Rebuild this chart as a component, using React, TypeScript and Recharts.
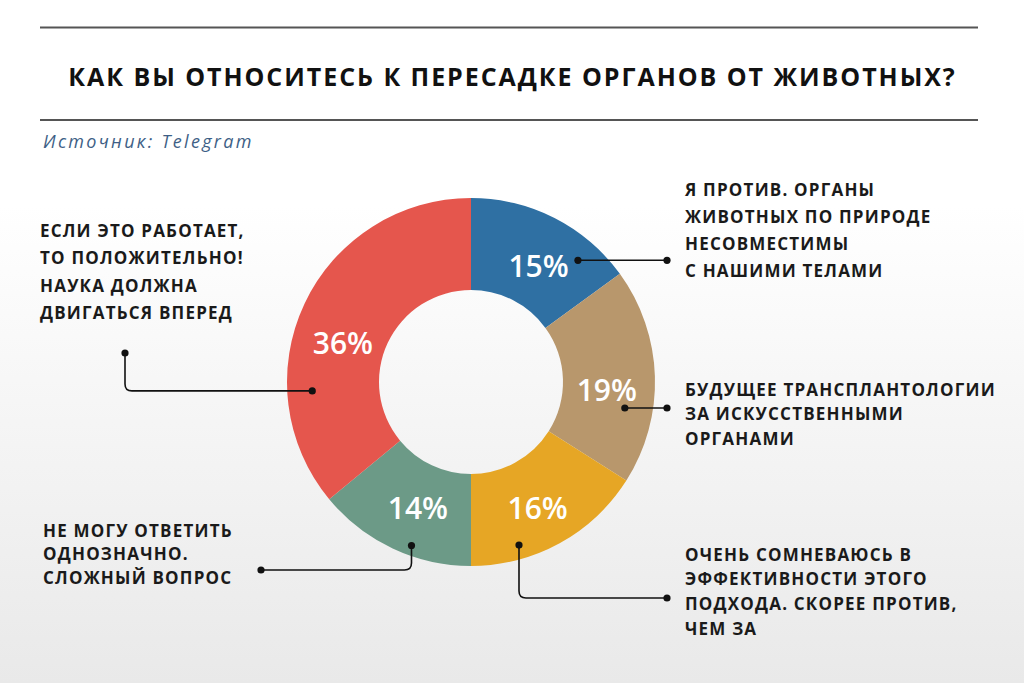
import { PieChart, Pie, Cell } from 'recharts';

const answers = [
  ['Я ПРОТИВ. ОРГАНЫ', 'ЖИВОТНЫХ ПО ПРИРОДЕ', 'НЕСОВМЕСТИМЫ', 'С НАШИМИ ТЕЛАМИ'],
  ['БУДУЩЕЕ ТРАНСПЛАНТОЛОГИИ', 'ЗА ИСКУССТВЕННЫМИ', 'ОРГАНАМИ'],
  ['ОЧЕНЬ СОМНЕВАЮСЬ В', 'ЭФФЕКТИВНОСТИ ЭТОГО', 'ПОДХОДА. СКОРЕЕ ПРОТИВ,', 'ЧЕМ ЗА'],
  ['НЕ МОГУ ОТВЕТИТЬ', 'ОДНОЗНАЧНО.', 'СЛОЖНЫЙ ВОПРОС'],
  ['ЕСЛИ ЭТО РАБОТАЕТ,', 'ТО ПОЛОЖИТЕЛЬНО!', 'НАУКА ДОЛЖНА', 'ДВИГАТЬСЯ ВПЕРЕД'],
];
const shares = [15, 19, 16, 14, 36];
const colors = ['#2f70a3', '#b8976c', '#e6a625', '#6c9a87', '#e5564d'];

const title = 'КАК ВЫ ОТНОСИТЕСЬ К ПЕРЕСАДКЕ ОРГАНОВ ОТ ЖИВОТНЫХ?';
const source = 'Источник: Telegram';

const data = shares.map((v, i) => ({ name: answers[i].join(' '), value: v }));

// where each percent label, leader dot and text block sit (angles clockwise from 12 o'clock)
const labelPos = [
  { a: 30, r: 135 }, { a: 93, r: 136 }, { a: 152, r: 142 }, { a: 203, r: 136 }, { a: 287, r: 134 },
];
const leaders = [
  { a: 41.3, r: 162, kind: 'h', x: 667 },
  { a: 99.6, r: 156, kind: 'h', x: 667 },
  { a: 163.6, r: 170, kind: 'vh', x: 667, y: 598 },
  { a: 200, r: 174, kind: 'vh', x: 261, y: 570 },
  { a: 266.8, r: 159, kind: 'hv', x: 125, y: 353 },
];
const blocks = [
  { x: 685, y: 189, lh: 27 },
  { x: 685, y: 389, lh: 24.5 },
  { x: 685, y: 554, lh: 24.7 },
  { x: 43, y: 530, lh: 23.5 },
  { x: 40, y: 230, lh: 27.5 },
];

const FONT = '"Open Sans", "Noto Sans", sans-serif';

function polar(cx: number, cy: number, r: number, a: number) {
  const rad = (a * Math.PI) / 180;
  return { x: cx + r * Math.sin(rad), y: cy - r * Math.cos(rad) };
}

function renderLabel(props: any) {
  const { cx, cy, index, value } = props;
  const lp = labelPos[index];
  const t = polar(cx, cy, lp.r, lp.a);
  const ld = leaders[index];
  const d0 = polar(cx, cy, ld.r, ld.a);
  const cr = 7;
  let path = '';
  let end = { x: ld.x, y: d0.y };
  if (ld.kind === 'h') {
    path = `M${d0.x},${d0.y} H${ld.x}`;
  } else if (ld.kind === 'vh') {
    const dir = ld.x > d0.x ? 1 : -1;
    path = `M${d0.x},${d0.y} V${ld.y! - cr} Q${d0.x},${ld.y} ${d0.x + dir * cr},${ld.y} H${ld.x}`;
    end = { x: ld.x, y: ld.y! };
  } else {
    path = `M${d0.x},${d0.y} H${ld.x + cr} Q${ld.x},${d0.y} ${ld.x},${d0.y - cr} V${ld.y}`;
    end = { x: ld.x, y: ld.y! };
  }
  return (
    <g key={`lbl-${index}`}>
      <text x={t.x} y={t.y} fill="#ffffff" fontFamily={FONT} fontWeight={600} fontSize={30}
        textAnchor="middle" dominantBaseline="central">{`${value}%`}</text>
      <path d={path} stroke="#111" strokeWidth={1.6} fill="none" />
      <circle cx={d0.x} cy={d0.y} r={3.6} fill="#111" />
      <circle cx={end.x} cy={end.y} r={3.6} fill="#111" />
    </g>
  );
}

export default function App() {
  return (
    <div style={{
      position: 'absolute', left: 0, top: 0, width: 1024, height: 683, overflow: 'hidden',
      background: 'linear-gradient(180deg, #ffffff 0%, #ffffff 30%, #e9e9e9 100%)',
    }}>
      <svg width={1024} height={683} style={{ position: 'absolute', left: 0, top: 0 }}>
        <line x1={40} x2={978} y1={27.5} y2={27.5} stroke="#555" strokeWidth={2} />
        <line x1={40} x2={978} y1={120} y2={120} stroke="#555" strokeWidth={2} />
        <text x={512.5} y={76} textAnchor="middle" dominantBaseline="central" fontFamily={FONT}
          fontWeight={700} fontSize={25} letterSpacing={1.95} fill="#111">{title}</text>
        <text x={43} y={141} dominantBaseline="central" fontFamily={FONT} fontStyle="italic"
          fontSize={18} letterSpacing={2.3} fill="#3e5f86">{source}</text>
        {answers.map((lines, i) => (
          <text key={i} fontFamily={FONT} fontWeight={700} fontSize={17} letterSpacing={1.2} fill="#1a1a1a">
            {lines.map((l, j) => (
              <tspan key={j} x={blocks[i].x} y={blocks[i].y + j * blocks[i].lh} dominantBaseline="central">{l}</tspan>
            ))}
          </text>
        ))}
      </svg>
      <div style={{ position: 'absolute', left: 0, top: 0 }}>
        <PieChart width={1024} height={683} margin={{ top: 0, right: 0, bottom: 0, left: 0 }}>
          <Pie data={data} dataKey="value" cx={471} cy={382} innerRadius={92} outerRadius={184}
            startAngle={90} endAngle={-270} stroke="none" label={renderLabel} labelLine={false}
            isAnimationActive={false}>
            {data.map((_, i) => <Cell key={i} fill={colors[i]} />)}
          </Pie>
        </PieChart>
      </div>
    </div>
  );
}
